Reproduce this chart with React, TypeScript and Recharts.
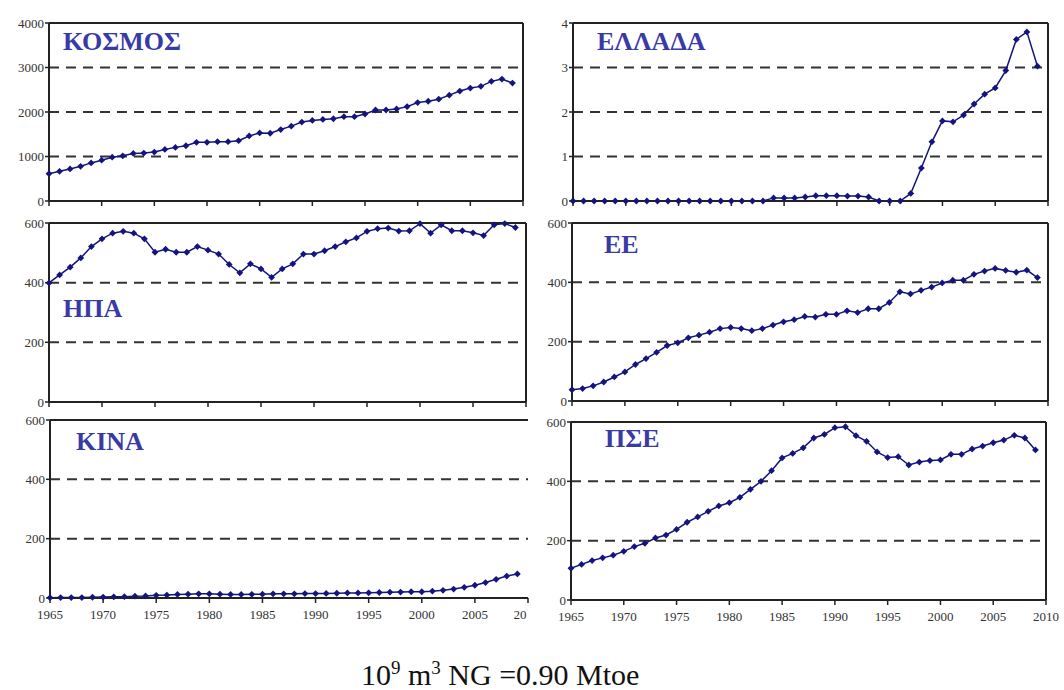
import { LineChart, Line, XAxis, YAxis, CartesianGrid, ReferenceLine } from 'recharts'

const years = [
  1965, 1966, 1967, 1968, 1969, 1970, 1971, 1972, 1973, 1974,
  1975, 1976, 1977, 1978, 1979, 1980, 1981, 1982, 1983, 1984,
  1985, 1986, 1987, 1988, 1989, 1990, 1991, 1992, 1993, 1994,
  1995, 1996, 1997, 1998, 1999, 2000, 2001, 2002, 2003, 2004,
  2005, 2006, 2007, 2008, 2009,
]
const xTicks = [1965, 1970, 1975, 1980, 1985, 1990, 1995, 2000, 2005, 2010]

// values per year
const kosmos = [
  614, 667, 720, 780, 856, 917, 985, 1015, 1068, 1076,
  1099, 1159, 1205, 1242, 1318, 1318, 1333, 1333, 1356, 1462,
  1530, 1523, 1606, 1682, 1773, 1811, 1833, 1848, 1894, 1894,
  1955, 2045, 2045, 2068, 2121, 2212, 2242, 2288, 2379, 2470,
  2538, 2576, 2689, 2740, 2650,
]
const ellada = [
  0, 0, 0, 0, 0, 0, 0, 0, 0, 0,
  0, 0, 0, 0, 0, 0, 0, 0, 0, 0.07,
  0.07, 0.07, 0.09, 0.12, 0.12, 0.12, 0.11, 0.11, 0.09, 0,
  0, 0, 0.17, 0.74, 1.33, 1.8, 1.78, 1.93, 2.18, 2.4,
  2.54, 2.93, 3.63, 3.8, 3.03,
]
const ipa = [
  399, 426, 452, 483, 521, 547, 566, 572, 566, 547,
  502, 512, 502, 502, 521, 509, 496, 461, 433, 463,
  446, 418, 446, 463, 496, 496, 507, 521, 537, 550,
  572, 581, 583, 573, 574, 598, 566, 594, 574, 574,
  567, 558, 594, 598, 585,
]
const ee = [
  38, 42, 51, 64, 81, 98, 123, 143, 164, 187,
  196, 213, 222, 232, 244, 248, 244, 237, 244, 256,
  267, 274, 285, 283, 292, 292, 304, 298, 311, 311,
  332, 368, 361, 373, 384, 398, 407, 407, 427, 438,
  447, 440, 434, 441, 416,
]
const kina = [
  1, 1.5, 1.5, 1.5, 2.5, 3, 4, 4.5, 6, 7,
  9, 10, 12, 13, 14, 14, 13, 12, 12, 12.5,
  13, 14, 14, 14, 15, 15, 15.5, 16, 17, 17,
  17.5, 18.5, 19.5, 20, 21, 21, 23, 26, 30, 36,
  43, 52, 63, 74, 81,
]
const pse = [
  107, 120, 133, 142, 151, 164, 180, 191, 209, 219,
  238, 262, 280, 299, 317, 328, 346, 373, 400, 436,
  479, 494, 513, 546, 558, 581, 584, 554, 535, 499,
  480, 483, 455, 465, 470, 472, 491, 491, 509, 519,
  530, 539, 555, 546, 506,
]

const ticks4000 = [0, 1000, 2000, 3000, 4000]
const ticks4 = [0, 1, 2, 3, 4]
const ticks600 = [0, 200, 400, 600]

const LINE = '#14147e'
const AXIS = '#222'
const TITLE = '#3a3aa6'
const SERIF = 'Liberation Serif, Times New Roman, serif'

const toRows = (values: number[]) => years.map((year, i) => ({ year, v: values[i] }))

function renderDiamond(props: any) {
  const { cx, cy, index } = props
  if (cx == null || cy == null) return <g key={`d-${index}`} />
  const r = 3.4
  return (
    <polygon
      key={`d-${index}`}
      points={`${cx},${cy - r} ${cx + r},${cy} ${cx},${cy + r} ${cx - r},${cy}`}
      fill={LINE}
    />
  )
}

// x labels only on the bottom row; the left one is cut at the page edge in the original
function XTick(props: any) {
  const { x, y, payload, show, lastLabel } = props
  if (!show) return <g />
  const isLast = payload.value === 2010 && lastLabel
  return (
    <text
      x={isLast ? x - 8 : x}
      y={y}
      dy={11}
      textAnchor="middle"
      fill="#333"
      fontSize={13}
      fontFamily={SERIF}
    >
      {isLast ? lastLabel : payload.value}
    </text>
  )
}

interface Box {
  left: number
  top: number
  right: number
  bottom: number
}

interface PanelProps {
  values: number[]
  yTicks: number[]
  plot: Box
  showXLabels?: boolean
  lastLabel?: string
  rightBorder?: boolean
}

const YW = 46
const PAD = 10
const PAD_R = 16
const XH = 32

function Panel({ values, yTicks, plot, showXLabels, lastLabel, rightBorder = true }: PanelProps) {
  const yMax = yTicks[yTicks.length - 1]
  const width = plot.right - plot.left + YW + PAD_R
  const height = plot.bottom - plot.top + PAD + XH

  return (
    <div style={{ position: 'absolute', left: plot.left - YW, top: plot.top - PAD }}>
      <LineChart
        width={width}
        height={height}
        data={toRows(values)}
        margin={{ top: PAD, right: PAD_R, bottom: 0, left: 0 }}
      >
        <CartesianGrid vertical={false} stroke="#333" strokeWidth={2} strokeDasharray="10 7" />
        <XAxis
          dataKey="year"
          type="number"
          domain={[1965, 2010]}
          ticks={xTicks}
          interval={0}
          height={XH}
          tick={<XTick show={showXLabels} lastLabel={lastLabel} />}
          tickSize={5}
          tickMargin={5}
          tickLine={{ stroke: AXIS, strokeWidth: 1.5 }}
          axisLine={{ stroke: AXIS, strokeWidth: 2 }}
        />
        <YAxis
          domain={[0, yMax]}
          ticks={yTicks}
          interval={0}
          width={YW}
          tick={{ fill: '#333', fontSize: 13, fontFamily: SERIF }}
          tickSize={4}
          tickMargin={1}
          tickLine={{ stroke: AXIS, strokeWidth: 1.5 }}
          axisLine={{ stroke: AXIS, strokeWidth: 2 }}
        />
        <ReferenceLine y={yMax} stroke={AXIS} strokeWidth={2} />
        {rightBorder && <ReferenceLine x={2010} stroke={AXIS} strokeWidth={2} />}
        <Line
          dataKey="v"
          type="linear"
          stroke={LINE}
          strokeWidth={1.5}
          dot={renderDiamond}
          activeDot={false}
          isAnimationActive={false}
        />
      </LineChart>
    </div>
  )
}

function Title({ text, left, top }: { text: string; left: number; top: number }) {
  return (
    <div
      style={{
        position: 'absolute',
        left,
        top,
        fontFamily: SERIF,
        fontWeight: 'bold',
        fontSize: 26,
        lineHeight: 1,
        color: TITLE,
        whiteSpace: 'nowrap',
      }}
    >
      {text}
    </div>
  )
}

const supStyle = { fontSize: 19, lineHeight: 0, position: 'relative' as const, top: -11, verticalAlign: 'baseline' }

export default function App() {
  return (
    <div
      style={{
        position: 'absolute',
        left: 0,
        top: 0,
        width: 1064,
        height: 690,
        background: '#fff',
        overflow: 'hidden',
      }}
    >
      <Panel values={kosmos} yTicks={ticks4000} plot={{ left: 49, top: 23, right: 523, bottom: 201 }} />
      <Panel values={ellada} yTicks={ticks4} plot={{ left: 573, top: 23, right: 1048, bottom: 201 }} />
      <Panel values={ipa} yTicks={ticks600} plot={{ left: 49, top: 223, right: 526, bottom: 402 }} />
      <Panel values={ee} yTicks={ticks600} plot={{ left: 572, top: 223, right: 1048, bottom: 401 }} />
      <Panel
        values={kina}
        yTicks={ticks600}
        plot={{ left: 50, top: 420, right: 528, bottom: 598 }}
        showXLabels
        lastLabel="20"
        rightBorder={false}
      />
      <Panel
        values={pse}
        yTicks={ticks600}
        plot={{ left: 571, top: 422, right: 1046, bottom: 600 }}
        showXLabels
      />

      <Title text="ΚΟΣΜΟΣ" left={63} top={29} />
      <Title text="ΕΛΛΑΔΑ" left={597} top={29} />
      <Title text="ΗΠΑ" left={63} top={296} />
      <Title text="ΕΕ" left={604} top={232} />
      <Title text="ΚΙΝΑ" left={76} top={429} />
      <Title text="ΠΣΕ" left={605} top={426} />

      <div
        style={{
          position: 'absolute',
          left: 361,
          top: 663,
          fontFamily: SERIF,
          fontSize: 30,
          lineHeight: '24px',
          color: '#111',
          whiteSpace: 'nowrap',
        }}
      >
        10<span style={supStyle}>9</span> m<span style={supStyle}>3</span> NG =0.90 Mtoe
      </div>
    </div>
  )
}
